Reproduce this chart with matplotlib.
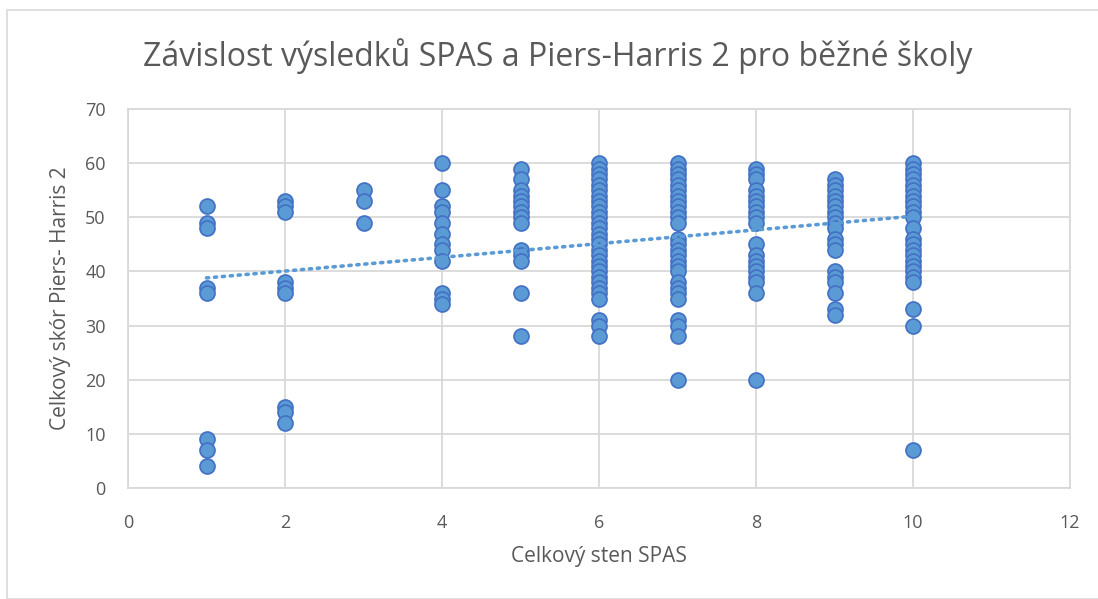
import numpy as np
import matplotlib
matplotlib.use('Agg')
import matplotlib.pyplot as plt
from matplotlib.patches import Rectangle

plt.rcParams['font.family'] = ['Open Sans', 'DejaVu Sans']

# Piers-Harris 2 total score for each SPAS sten value
sten_1 = [52, 49, 48, 37, 36, 9, 7, 4]
sten_2 = [53, 52, 51, 38, 37, 36, 15, 14, 12]
sten_3 = [55, 53, 49]
sten_4 = [60, 55, 52, 51, 49, 47, 45, 44, 42, 36, 35, 34]
sten_5 = [59, 57, 55, 54, 53, 52, 51, 50, 49, 44, 43, 42, 36, 28]
sten_6 = [60, 59, 58, 57, 56, 55, 54, 53, 52, 51, 50, 49, 48, 47, 46, 45,
          44, 43, 42, 41, 40, 39, 38, 37, 36, 35, 31, 30, 28]
sten_7 = [60, 59, 58, 57, 56, 55, 54, 53, 52, 51, 50, 49, 46, 45, 44, 43,
          42, 41, 40, 38, 37, 36, 35, 31, 30, 28, 20]
sten_8 = [59, 58, 57, 55, 54, 53, 52, 51, 50, 49, 45, 43, 42, 41, 40, 39,
          38, 36, 20]
sten_9 = [57, 56, 55, 54, 53, 52, 51, 50, 49, 48, 46, 45, 44, 40, 39, 38,
          36, 33, 32]
sten_10 = [60, 59, 58, 57, 56, 55, 54, 53, 52, 51, 50, 48, 46, 45, 44, 43,
           42, 41, 40, 39, 38, 33, 30, 7]

# linear trendline (many overlapping points hide duplicates)
trend_x = [1, 10]
trend_y = [38.8, 50.2]

columns = {1: sten_1, 2: sten_2, 3: sten_3, 4: sten_4, 5: sten_5,
           6: sten_6, 7: sten_7, 8: sten_8, 9: sten_9, 10: sten_10}

xs = []
ys = []
for sten, vals in columns.items():
    xs += [sten] * len(vals)
    ys += vals

txt = '#595959'
grid = '#D9D9D9'

fig = plt.figure(figsize=(10.98, 5.99), dpi=100)
fig.patches.append(Rectangle((7 / 1098, 0), 1.0, 1 - 10 / 599, transform=fig.transFigure,
                             fill=False, edgecolor=grid, linewidth=1.2))
ax = fig.add_axes([128 / 1098, (599 - 488) / 599, (1070 - 128) / 1098, (488 - 109) / 599])

ax.scatter(xs, ys, s=115, facecolor='#5B9BD5', edgecolor='#4472C4', linewidth=1.3, zorder=3)

ax.plot(trend_x, trend_y, color='#5B9BD5', linewidth=2.6, linestyle=(0, (0.6, 1.6)),
        dash_capstyle='round', zorder=4)

ax.set_xlim(0, 12)
ax.set_ylim(0, 70)
ax.set_xticks(range(0, 13, 2))
ax.set_yticks(range(0, 71, 10))
ax.grid(True, color=grid, linewidth=1.3)
ax.set_axisbelow(True)
for sp in ax.spines.values():
    sp.set_color(grid)
    sp.set_linewidth(1.3)
ax.tick_params(length=0, labelsize=13, labelcolor=txt)
ax.tick_params(axis='y', pad=16)
ax.tick_params(axis='x', pad=19)

ax.set_xlabel('Celkový sten SPAS', fontsize=15, color=txt, labelpad=10)
ax.set_ylabel('Celkový skór Piers- Harris 2', fontsize=15, color=txt, labelpad=10)
fig.text(0.508, 0.907, 'Závislost výsledků SPAS a Piers-Harris 2 pro běžné školy',
         ha='center', va='center', fontsize=23, color=txt)

fig.savefig('out.png', dpi=100, facecolor='white')
